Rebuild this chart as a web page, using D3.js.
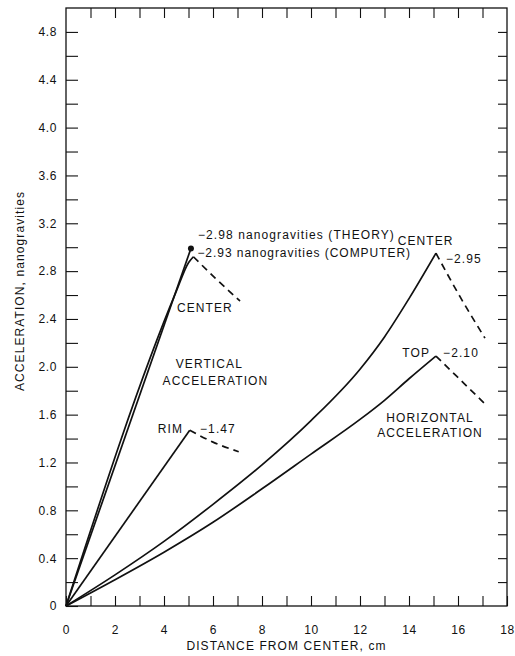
<!DOCTYPE html>
<html><head><meta charset="utf-8">
<script src="https://cdn.jsdelivr.net/npm/d3@7"></script>
<style>
body{margin:0;background:#fff}
svg text{font-family:"Liberation Sans",Arial,Helvetica,sans-serif;fill:#111}
</style></head><body>
<svg id="c" width="515" height="656"></svg>
<script>
// ---- data ----
const xTicks = d3.range(0, 19, 1);
const yTicks = d3.range(0, 25).map(i => +(i * 0.2).toFixed(1));
const vertCenterTheory = [[0,0],[5.1,2.99]];
const vertCenterComputer = [[0,0],[4.5,2.63],[5.0,2.87],[5.2,2.92]];
const vertCenterComputerDash = [[5.2,2.92],[6.1,2.74],[7.1,2.55]];
const vertRim = [[0,0],[5.05,1.47]];
const vertRimDash = [[5.05,1.47],[6.0,1.37],[7.05,1.29]];
const horCenter = [[0,0],[2,0.26],[4,0.54],[6,0.85],[8,1.18],[10,1.55],[12,1.98],[13,2.25],[14,2.57],[15.1,2.95]];
const horCenterDash = [[15.1,2.95],[16.1,2.58],[17.1,2.24]];
const horTop = [[0,0],[2,0.22],[4,0.45],[6,0.70],[8,0.98],[10,1.27],[12,1.56],[13,1.72],[14,1.90],[15.1,2.09]];
const horTopDash = [[15.1,2.09],[16.1,1.89],[17.1,1.69]];

// ---- chart ----
const svg = d3.select("#c");
const x = d3.scaleLinear().domain([0,18]).range([66,507]);
const y = d3.scaleLinear().domain([0,5.0]).range([606,8]);

svg.append("rect").attr("x",x(0)).attr("y",y(5.0))
  .attr("width",x(18)-x(0)).attr("height",y(0)-y(5.0))
  .attr("fill","none").attr("stroke","#111").attr("stroke-width",1.3);

function styleAxis(g){
  g.select(".domain").remove();
  g.selectAll(".tick line").attr("stroke","#111").attr("stroke-width",1.1);
  g.selectAll(".tick text").attr("font-size",12).attr("fill","#111")
    .style("letter-spacing","0.6px").style("font-family",'"Liberation Sans",Arial,sans-serif');
}
svg.append("g").attr("transform",`translate(0,${y(0)})`)
  .call(d3.axisBottom(x).tickValues(xTicks).tickSizeInner(-10).tickSizeOuter(0).tickPadding(19)
    .tickFormat(d => d % 2 === 0 ? d : ""))
  .call(styleAxis);
svg.append("g").attr("transform",`translate(0,${y(5.0)})`)
  .call(d3.axisTop(x).tickValues(xTicks.slice(1,-1)).tickSizeInner(-10).tickSizeOuter(0).tickFormat(""))
  .call(styleAxis);
svg.append("g").attr("transform",`translate(${x(0)},0)`)
  .call(d3.axisLeft(y).tickValues(yTicks).tickSizeInner(-12).tickSizeOuter(0).tickPadding(9)
    .tickFormat((d,i) => i % 2 === 0 ? (d === 0 ? "0" : d3.format(".1f")(d)) : ""))
  .call(styleAxis);
svg.append("g").attr("transform",`translate(${x(18)},0)`)
  .call(d3.axisRight(y).tickValues(yTicks.slice(1)).tickSizeInner(-9).tickSizeOuter(0).tickFormat(""))
  .call(styleAxis);

const line = d3.line().x(d => x(d[0])).y(d => y(d[1]));
const curve = d3.line().x(d => x(d[0])).y(d => y(d[1])).curve(d3.curveMonotoneX);
function draw(data, gen, dashed){
  svg.append("path").datum(data).attr("d",gen).attr("fill","none")
    .attr("stroke","#111").attr("stroke-width",1.7)
    .attr("stroke-dasharray", dashed ? "7,5" : null);
}
draw(vertCenterTheory, line, false);
draw(vertCenterComputer, curve, false);
draw(vertCenterComputerDash, curve, true);
draw(vertRim, line, false);
draw(vertRimDash, curve, true);
draw(horCenter, curve, false);
draw(horCenterDash, curve, true);
draw(horTop, curve, false);
draw(horTopDash, curve, true);

const tp = vertCenterTheory[vertCenterTheory.length-1];
svg.append("circle").attr("cx",x(tp[0])).attr("cy",y(tp[1])).attr("r",3).attr("fill","#111");

function label(t, px, py, anchor, ls){
  svg.append("text").attr("x",px).attr("y",py).attr("text-anchor",anchor||"start")
    .attr("font-size",12).style("letter-spacing",(ls||1.1)+"px").text(t);
}
label("\u22122.98 nanogravities (THEORY)", x(5.1)+7, y(2.99)-9);
label("\u22122.93 nanogravities (COMPUTER)", x(5.2)+4, y(2.92), "start", 0.95);
label("CENTER", x(5.67), y(2.458), "middle");
label("VERTICAL", x(5.85), y(1.99), "middle");
label("ACCELERATION", x(6.1), y(1.848), "middle");
label("RIM", x(4.78), y(1.447), "end");
label("\u22121.47", x(5.47), y(1.447));
label("CENTER", x(14.68), y(3.02), "middle");
label("\u22122.95", x(15.51), y(2.868));
label("TOP", x(14.86), y(2.082), "end");
label("\u22122.10", x(15.39), y(2.082));
label("HORIZONTAL", x(14.86), y(1.538), "middle");
label("ACCELERATION", x(14.86), y(1.413), "middle");

svg.append("text").attr("x",(x(0)+x(18))/2+0).attr("y",650).attr("text-anchor","middle")
  .attr("font-size",12).style("letter-spacing","1.1px").text("DISTANCE FROM CENTER, cm");
svg.append("text").attr("transform","translate(24,291) rotate(-90)").attr("text-anchor","middle")
  .attr("font-size",12).style("letter-spacing","1.1px").text("ACCELERATION, nanogravities");
</script>
</body></html>
